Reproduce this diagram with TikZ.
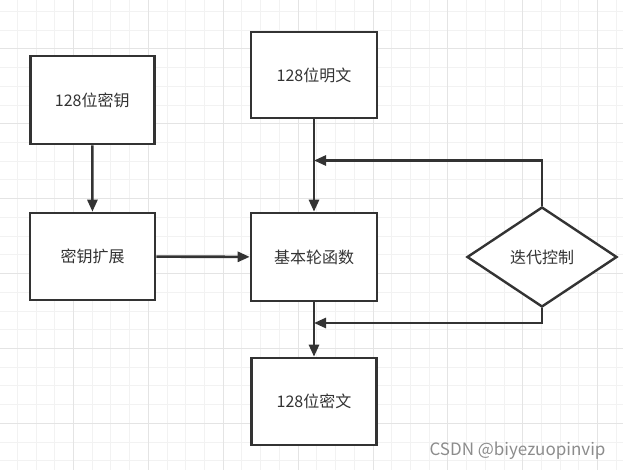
\documentclass[tikz,border=0pt]{standalone}
\usepackage{fontspec}
\usepackage{tikz}
\usetikzlibrary{arrows.meta,shapes.geometric}
\newfontfamily\cjk{Noto Sans CJK SC}
\definecolor{ink}{HTML}{333333}
\definecolor{minorgrid}{HTML}{F2F2F2}
\definecolor{majorgrid}{HTML}{E4E4E4}
\definecolor{mark}{HTML}{8C8C8C}

\begin{document}
\begin{tikzpicture}[x=1pt,y=-1pt,
    blk/.style={draw=ink, line width=2.6pt, fill=white, rectangle, minimum width=125pt, minimum height=87pt, inner sep=0pt, font=\cjk\fontsize{16}{18}\selectfont, text=ink},
    ctlbox/.style={draw=ink, line width=2.4pt, fill=white, diamond, minimum width=150pt, minimum height=100pt, inner sep=0pt, font=\cjk\fontsize{16}{18}\selectfont, text=ink},
    arr/.style={draw=ink, line width=2.6pt, -{Triangle[length=12pt,width=10pt]}}]
       \useasboundingbox (0,0) rectangle (623,470);
       \fill[white] (0,0) rectangle (623,470);
       % grid
       \foreach \i in {0,...,34}
          \draw[minorgrid, line width=1pt] ({-1.4+18.72*\i},0) -- ({-1.4+18.72*\i},470);
       \foreach \j in {0,...,25}
          \draw[minorgrid, line width=1pt] (0,{11.5+18.72*\j}) -- (623,{11.5+18.72*\j});
       \foreach \i in {-1,...,7}
          \draw[majorgrid, line width=1pt] ({73.4+74.9*\i},0) -- ({73.4+74.9*\i},470);
       \foreach \j in {0,...,5}
          \draw[majorgrid, line width=1pt] (0,{49+74.9*\j}) -- (623,{49+74.9*\j});

       % boxes
       \node[blk, minimum width=124pt, minimum height=88pt] (key) at (92.3,100) {128位密钥};
       \node[blk] (expand) at (92.5,256.5) {密钥扩展};
       \node[blk, minimum width=126pt, minimum height=86pt] (plain) at (314,75) {128位明文};
       \node[blk, minimum width=126pt, minimum height=88pt] (round) at (314,257) {基本轮函数};
       \node[blk] (cipher) at (314,401.5) {128位密文};
       \node[ctlbox] (ctl) at (542,257) {迭代控制};
       \coordinate (fbtop) at (314,160.5);
       \coordinate (fbbot) at (314,323);

       % arrows
       \draw[arr] (key) -- (expand);
       \draw[arr] (expand) -- (round);
       \draw[arr] (plain) -- (round);
       \draw[arr] (round) -- (cipher);
       \draw[arr] (ctl.north) |- (fbtop);
       \draw[arr] (ctl.south) |- (fbbot);

       \node[font=\cjk\fontsize{17}{20}\selectfont, text=mark, anchor=east] (wm) at (609,451) {CSDN @biyezuopinvip};
      \end{tikzpicture}
\end{document}
